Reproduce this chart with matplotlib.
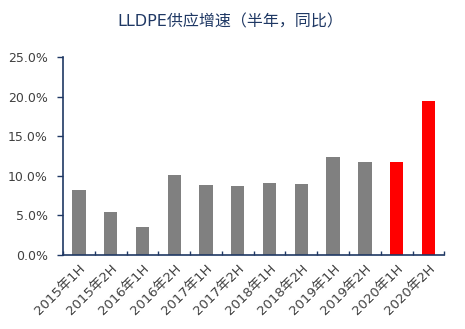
import matplotlib
matplotlib.use("Agg")
import matplotlib.pyplot as plt
from matplotlib.ticker import FuncFormatter, FixedLocator
import numpy as np

plt.rcParams['font.family'] = ['DejaVu Sans', 'Noto Sans CJK SC']

categories = ["2015年1H", "2015年2H", "2016年1H", "2016年2H", "2017年1H", "2017年2H",
              "2018年1H", "2018年2H", "2019年1H", "2019年2H", "2020年1H", "2020年2H"]
values = [8.2, 5.4, 3.5, 10.1, 8.8, 8.7, 9.1, 9.0, 12.4, 11.7, 11.7, 19.4]
colors = ["#808080"] * 10 + ["#FF0000"] * 2
title = "LLDPE供应增速（半年，同比）"

navy = "#1F3864"
text_c = "#404040"

fig = plt.figure(figsize=(4.65, 3.29), dpi=100)
ax = fig.add_axes([0.1355, 0.225, 0.82, 0.602])
x = np.arange(len(categories))
ax.bar(x, values, width=0.42, color=colors, zorder=2)
ax.set_xlim(-0.5, len(categories) - 0.5)
ax.set_ylim(0, 25)
ax.set_yticks(np.arange(0, 25.1, 5))
ax.yaxis.set_major_formatter(FuncFormatter(lambda v, p: f"{v:.1f}%"))
ax.set_xticks(x)
ax.set_xticklabels(categories, rotation=45, ha="right", rotation_mode="anchor",
                   fontsize=9.5, color=text_c)
ax.xaxis.set_minor_locator(FixedLocator(np.arange(-0.5, len(categories), 1)))
ax.tick_params(axis="x", which="major", length=0, pad=5)
ax.tick_params(axis="x", which="minor", length=3, direction="in", color=navy, width=1)
ax.tick_params(axis="y", length=4, direction="out", color=navy, width=1,
               labelsize=9, labelcolor=text_c, pad=7)
for s in ["top", "right"]:
    ax.spines[s].set_visible(False)
for s in ["left", "bottom"]:
    ax.spines[s].set_color(navy)
    ax.spines[s].set_linewidth(1.2)
fig.text(0.495, 0.935, title, ha="center", va="center", fontsize=11.5, color=navy)
fig.savefig("out.png", dpi=100)
